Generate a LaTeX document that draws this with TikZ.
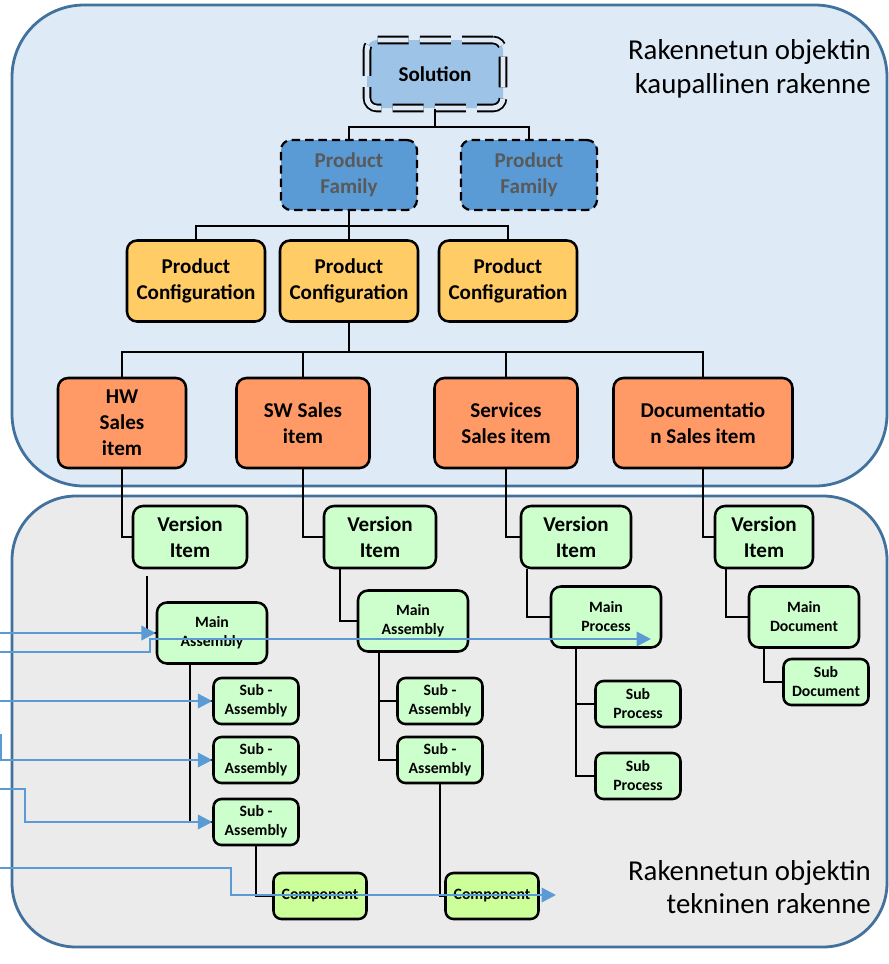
\documentclass[tikz,border=0pt]{standalone}
\usepackage{fontspec}
\setmainfont{Carlito}
\usepackage{tikz}
\usetikzlibrary{positioning,arrows.meta}

\definecolor{paneltop}{HTML}{DEEAF6}
\definecolor{panelbot}{HTML}{EBEBEB}
\definecolor{paneledge}{HTML}{41719C}
\definecolor{solfill}{HTML}{9DC3E6}
\definecolor{famfill}{HTML}{5B9BD5}
\definecolor{famtext}{HTML}{595959}
\definecolor{conffill}{HTML}{FFCC66}
\definecolor{salesfill}{HTML}{FF9966}
\definecolor{partfill}{HTML}{CCFFCC}
\definecolor{compfill}{HTML}{CCFF99}
\definecolor{feedblue}{HTML}{5B9BD5}

\newcommand{\boxfont}{\fontsize{15}{18.4}\selectfont\bfseries}
\newcommand{\partfont}{\fontsize{11.2}{13.5}\selectfont\bfseries}
\newcommand{\panelfont}{\fontsize{20.5}{24}\selectfont}

\begin{document}
\begin{tikzpicture}[
    x=0.25mm, y=-0.25mm,
    >=Latex,
    blk/.style={draw=black, line width=1.8pt, rounded corners=2.5mm, align=center, inner sep=1pt, font=\boxfont},
    sol/.style={blk, fill=solfill, line width=1.3pt, double=paneltop, double distance=3.5pt, dash pattern=on 22pt off 8pt, minimum width=34mm, minimum height=17mm},
    fam/.style={blk, fill=famfill, text=famtext, line width=1.6pt, dash pattern=on 6pt off 3.5pt, minimum width=34mm, minimum height=17.5mm},
    conf/.style={blk, fill=conffill, minimum width=34.5mm, minimum height=20.25mm},
    sales/.style={blk, fill=salesfill, minimum height=22.5mm},
    ver/.style={blk, fill=partfill, minimum height=15.5mm},
    main/.style={blk, fill=partfill, font=\partfont, minimum width=27.5mm, minimum height=15.25mm},
    part/.style={blk, fill=partfill, font=\partfont, rounded corners=2mm, minimum width=21.25mm, minimum height=11.5mm},
    comp/.style={part, fill=compfill, minimum width=23.25mm},
    link/.style={line width=1.5pt},
    feed/.style={draw=feedblue, line width=1.8pt, -{Triangle[length=3.6mm,width=3.6mm]}},
    panel/.style={draw=paneledge, line width=2pt},
  ]
    \useasboundingbox (0,0) rectangle (889,964);

    % ---------- panels ----------
    \draw[panel, fill=paneltop, rounded corners=18mm] (12,5) rectangle (887,486);
    \draw[panel, fill=panelbot, rounded corners=16mm] (12,496) rectangle (887,947);
    \node[font=\panelfont, align=right, anchor=east, inner sep=0pt] (capA) at (871,69)
      {Rakennetun objektin\\kaupallinen rakenne};
    \node[font=\panelfont, align=right, anchor=east, inner sep=0pt] (capB) at (871,887)
      {Rakennetun objektin\\tekninen rakenne};

    % ---------- commercial structure ----------
    \node[sol] (sol) at (435,74) {Solution};
    \node[fam] (fam1) at (349,175) {Product\\Family};
    \node[fam] (fam2) at (529,175) {Product\\Family};
    \node[conf] (conf1) at (196,281) {Product\\Configuration};
    \node[conf] (conf2) at (349,281) {Product\\Configuration};
    \node[conf] (conf3) at (508,281) {Product\\Configuration};
    \node[sales, minimum width=32mm]    (hw)  at (122,423) {HW\\Sales\\item};
    \node[sales, minimum width=33.25mm] (sw)  at (303,423) {SW Sales\\item};
    \node[sales, minimum width=35.75mm] (srv) at (506,423) {Services\\Sales item};
    \node[sales, minimum width=44.75mm] (doc) at (703,423) {Documentatio\\n Sales item};

    % ---------- technical structure ----------
    \node[ver, minimum width=28.5mm] (ver1) at (190,537) {Version\\Item};
    \node[ver, minimum width=28mm]   (ver2) at (380,537) {Version\\Item};
    \node[ver, minimum width=27.5mm] (ver3) at (576,537) {Version\\Item};
    \node[ver, minimum width=24.5mm] (ver4) at (764,537) {Version\\Item};
    \node[main] (asm1) at (212,633) {Main\\Assembly};
    \node[main] (asm2) at (413,621) {Main\\Assembly};
    \node[main] (proc) at (606,617) {Main\\Process};
    \node[main] (docm) at (804,617) {Main\\Document};
    \node[part] (sa1) at (256,701) {Sub -\\Assembly};
    \node[part] (sa2) at (256,760) {Sub -\\Assembly};
    \node[part] (sa3) at (256,822) {Sub -\\Assembly};
    \node[part] (sb1) at (440,701) {Sub -\\Assembly};
    \node[part] (sb2) at (440,760) {Sub -\\Assembly};
    \node[part] (sp1) at (638,704) {Sub\\Process};
    \node[part] (sp2) at (638,776) {Sub\\Process};
    \node[part] (sd)  at (826,682) {Sub\\Document};
    \node[comp] (cp1) at (320,896) {Component};
    \node[comp] (cp2) at (492,896) {Component};

    % ---------- tree lines ----------
    \foreach \c in {fam1,fam2} \draw[link] (sol.south) -- ++(0,18) -| (\c.north);
    \foreach \c in {conf1,conf2,conf3} \draw[link] (fam1.south) -- ++(0,15) -| (\c.north);
    \foreach \c in {hw,sw,srv,doc} \draw[link] (conf2.south) -- ++(0,29) -| (\c.north);
    \foreach \a/\b in {hw/ver1, sw/ver2, srv/ver3, doc/ver4} \draw[link] (\a.south) |- (\b.west);
    \draw[link] ([shift={(3.75mm,-1.75mm)}]ver1.south west) |- (asm1.west);
    \draw[link] ([xshift=4.25mm]ver2.south west) |- (asm2.west);
    \draw[link] ([xshift=1.75mm]ver3.south west) |- (proc.west);
    \draw[link] ([xshift=3mm]ver4.south west) |- (docm.west);
    \foreach \c in {sa1,sa2,sa3} \draw[link] ([xshift=8.5mm]asm1.south west) |- (\c.west);
    \foreach \c in {sb1,sb2} \draw[link] ([xshift=5.5mm]asm2.south west) |- (\c.west);
    \foreach \c in {sp1,sp2} \draw[link] ([xshift=6.5mm]proc.south west) |- (\c.west);
    \draw[link] ([xshift=4mm]docm.south west) |- (sd.west);
    \draw[link] (sa3.south) |- (cp1.west);
    \draw[link] (sb2.south) |- (cp2.west);

    % ---------- incoming links ----------
    \coordinate (in1) at (0,633);
    \coordinate (in2) at (0,652);
    \coordinate (in3) at (0,701);
    \coordinate (in4) at (1,734);
    \coordinate (in5) at (0,789);
    \coordinate (in6) at (0,868);
    \coordinate (out2) at (651,639);
    \coordinate (out6) at (556,895);
    \draw[feed] (in1) -- (asm1.west);
    \draw[feed] (in2) -- ++(150,0) |- (out2);
    \draw[feed] (in3) -- (sa1.west);
    \draw[feed] (in4) |- (sa2.west);
    \draw[feed] (in5) -- ++(25,0) |- (sa3.west);
    \draw[feed] (in6) -- ++(231,0) |- (out6);
  \end{tikzpicture}
\end{document}
